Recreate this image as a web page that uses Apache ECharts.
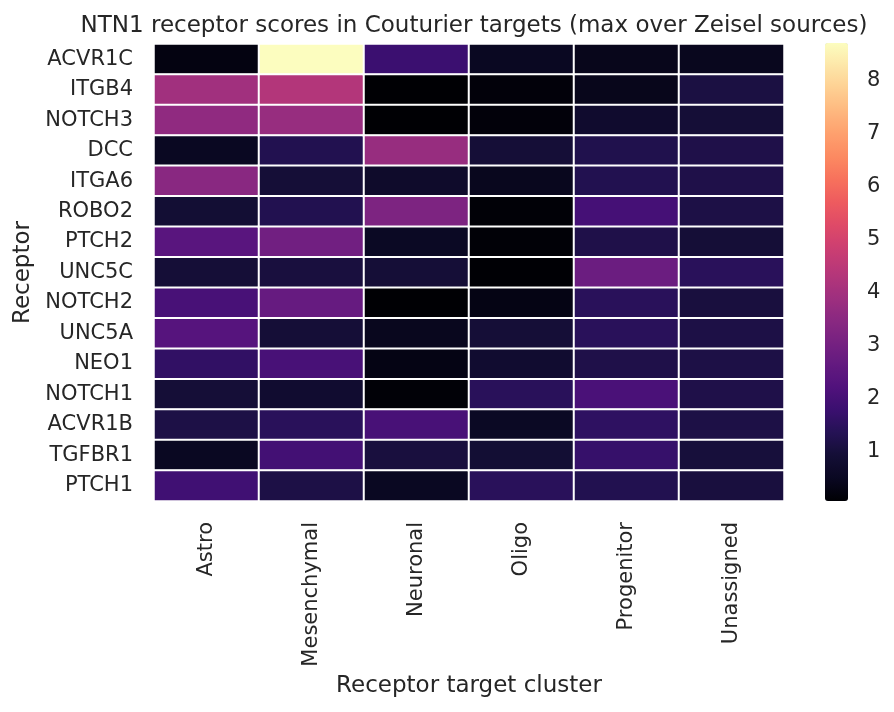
<!DOCTYPE html>
<html>
<head>
<meta charset="utf-8">
<script src="https://cdn.jsdelivr.net/npm/echarts@6/dist/echarts.min.js"></script>
<style>
  html, body { margin: 0; padding: 0; background: #fff; }
  #chart { width: 894px; height: 712px; }
</style>
</head>
<body>
<div id="chart"></div>
<script>
	const clusters = ["Astro", "Mesenchymal", "Neuronal", "Oligo", "Progenitor", "Unassigned"];
	const receptors = ["ACVR1C", "ITGB4", "NOTCH3", "DCC", "ITGA6", "ROBO2", "PTCH2", "UNC5C",
		"NOTCH2", "UNC5A", "NEO1", "NOTCH1", "ACVR1B", "TGFBR1", "PTCH1"];

	// one array per target cluster, in receptor order
	const astro = [0.25, 3.95, 3.6, 0.5, 3.45, 0.9, 2.4, 0.95, 2.05, 2.35, 1.6, 0.95, 1.15, 0.5, 1.9];
	const mesenchymal = [8.70, 4.3, 3.75, 1.3, 0.95, 1.3, 2.95, 1.05, 2.7, 0.95, 2.05, 0.8, 1.45, 1.95, 1.15];
	const neuronal = [1.8, 0.07, 0.07, 3.75, 0.7, 3.2, 0.55, 0.95, 0.07, 0.45, 0.3, 0.12, 2.05, 1.05, 0.5];
	const oligo = [0.5, 0.15, 0.15, 0.95, 0.45, 0.12, 0.12, 0.08, 0.3, 0.95, 0.8, 1.45, 0.55, 0.9, 1.45];
	const progenitor = [0.4, 0.4, 0.75, 1.25, 1.3, 2.0, 1.2, 2.8, 1.45, 1.45, 1.2, 2.1, 1.55, 1.7, 1.3];
	const unassigned = [0.45, 1.1, 0.95, 1.2, 1.2, 1.15, 0.95, 1.45, 1.05, 1.15, 1.15, 1.2, 1.15, 1.0, 1.05];

	const colorbarTicks = [1, 2, 3, 4, 5, 6, 7, 8];
	const vmin = 0.07;
	const vmax = 8.7;

	const magma = ["#000004", "#0a0822", "#140e36", "#251255", "#3b0f70", "#51127c", "#641a80",
		"#782281", "#8c2981", "#a1307e", "#b73779", "#cb3e72", "#de4968", "#ed5a5f", "#f7705c",
		"#fc8961", "#fe9f6d", "#feb77e", "#fecf92", "#fde6a8", "#fcfdbf"];

	const columns = [astro, mesenchymal, neuronal, oligo, progenitor, unassigned];
	const cells = [];
	columns.forEach((col, xi) => {
		col.forEach((v, yi) => cells.push([xi, yi, v]));
	});

	const FONT = "DejaVu Sans";
	const INK = "#262626";

	const chart = echarts.init(document.getElementById("chart"), null, { renderer: "canvas" });
	chart.setOption({
		backgroundColor: "#fff",
		animation: false,
		textStyle: { fontFamily: FONT, color: INK },
		title: {
			text: "NTN1 receptor scores in Couturier targets (max over Zeisel sources)",
			left: 469,
			textAlign: "center",
			top: 10,
			textStyle: { fontFamily: FONT, fontSize: 23, fontWeight: "normal", color: INK }
		},
		grid: [
			{ left: 154, top: 44, width: 630, height: 457 },
			{ left: 825, top: 43, width: 23, height: 458, show: false }
		],
		xAxis: [
			{
				type: "category",
				data: clusters,
				gridIndex: 0,
				position: "bottom",
				axisLine: { show: false },
				axisTick: { show: false },
				splitLine: { show: false },
				axisLabel: { rotate: 90, fontSize: 21, color: INK, fontFamily: FONT, margin: 21 },
				name: "Receptor target cluster",
				nameLocation: "middle",
				nameGap: 173,
				nameTextStyle: { fontSize: 23, color: INK, fontFamily: FONT }
			},
			{ type: "value", gridIndex: 1, show: false, min: 0, max: 1 }
		],
		yAxis: [
			{
				type: "category",
				data: receptors,
				inverse: true,
				gridIndex: 0,
				axisLine: { show: false },
				axisTick: { show: false },
				splitLine: { show: false },
				axisLabel: { fontSize: 21, color: INK, fontFamily: FONT, margin: 21 },
				name: "Receptor",
				nameLocation: "middle",
				nameGap: 118,
				nameTextStyle: { fontSize: 23, color: INK, fontFamily: FONT }
			},
			{
				type: "value",
				gridIndex: 1,
				position: "right",
				min: vmin,
				max: vmax,
				axisLine: { show: false },
				splitLine: { show: false },
				axisTick: { show: true, length: 11, lineStyle: { color: INK, width: 2 }, customValues: colorbarTicks },
				axisLabel: { fontSize: 21, color: INK, fontFamily: FONT, margin: 19, customValues: colorbarTicks }
			}
		],
		visualMap: {
			type: "continuous",
			min: vmin,
			max: vmax,
			seriesIndex: 0,
			calculable: false,
			orient: "vertical",
			left: 825,
			top: 43,
			padding: 0,
			itemWidth: 23,
			itemHeight: 458,
			text: null,
			inRange: { color: magma }
		},
		series: [
			{
				type: "heatmap",
				xAxisIndex: 0,
				yAxisIndex: 0,
				data: cells,
				itemStyle: { borderColor: "#ffffff", borderWidth: 2 },
				label: { show: false }
			}
		]
	});
</script>
</body>
</html>
